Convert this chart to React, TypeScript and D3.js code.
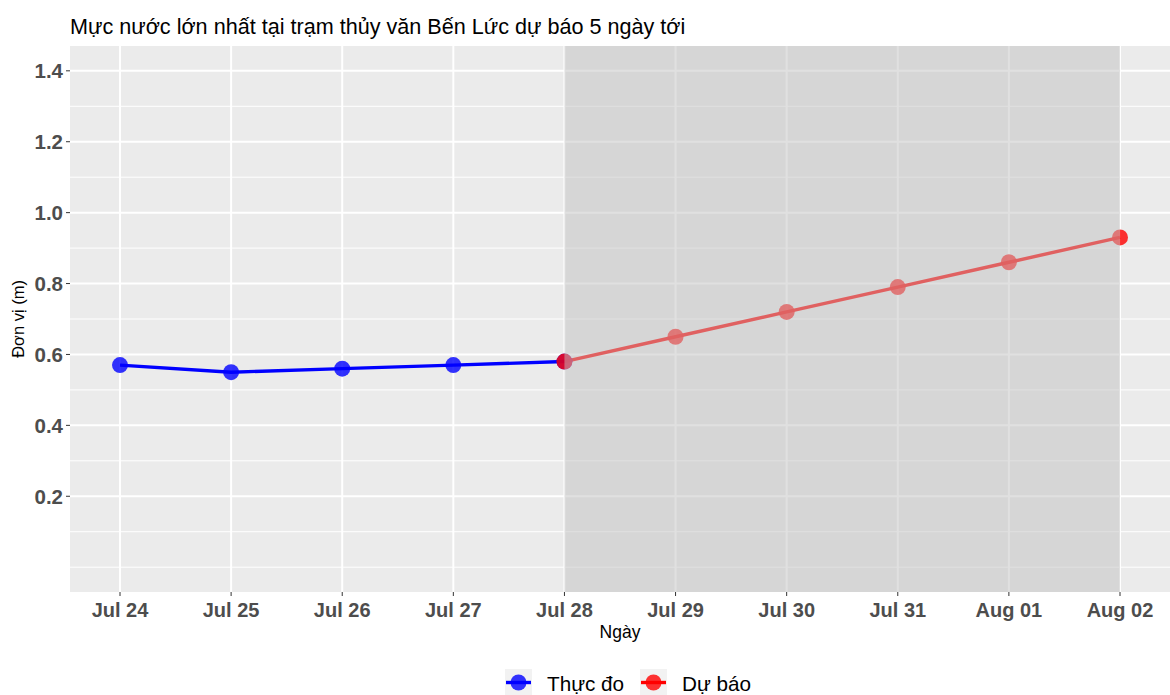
import React from "react";
import * as d3 from "d3";

const observedDates = ["2024-07-24", "2024-07-25", "2024-07-26", "2024-07-27", "2024-07-28"];
const observedValues = [0.57, 0.55, 0.56, 0.57, 0.58];
const forecastDates = ["2024-07-28", "2024-07-29", "2024-07-30", "2024-07-31", "2024-08-01", "2024-08-02"];
const forecastValues = [0.58, 0.65, 0.72, 0.79, 0.86, 0.93];
const xTickDates = ["2024-07-24", "2024-07-25", "2024-07-26", "2024-07-27", "2024-07-28", "2024-07-29", "2024-07-30", "2024-07-31", "2024-08-01", "2024-08-02"];
const yMajorTicks = [0.2, 0.4, 0.6, 0.8, 1.0, 1.2, 1.4];
const yMinorTicks = [0.0, 0.1, 0.3, 0.5, 0.7, 0.9, 1.1, 1.3];
const legendLabels = ["Thực đo", "Dự báo"];
const titleText = "Mực nước lớn nhất tại trạm thủy văn Bến Lức dự báo 5 ngày tới";

const parse = d3.utcParse("%Y-%m-%d");
const fmt = d3.utcFormat("%b %d");

export default function App() {
  const W = 1170, H = 695;
  const left = 70, right = 1170, top = 46, bottom = 592;
  const d0 = parse(xTickDates[0])!.getTime();
  const d1 = parse(xTickDates[xTickDates.length - 1])!.getTime();
  const pad = (d1 - d0) * 0.05;
  const x = d3.scaleUtc().domain([new Date(d0 - pad), new Date(d1 + pad)]).range([left, right]);
  const yLo = 0, yHi = 1.4;
  const ypad = (yHi - yLo) * 0.05;
  const y = d3.scaleLinear().domain([yLo - ypad, yHi + ypad]).range([bottom, top]);

  const obs = observedDates.map((d, i) => ({ d: parse(d)!, v: observedValues[i] }));
  const fc = forecastDates.map((d, i) => ({ d: parse(d)!, v: forecastValues[i] }));
  const line = d3.line<{ d: Date; v: number }>().x((p) => x(p.d)).y((p) => y(p.v));
  const shadeX0 = x(parse(forecastDates[0])!);
  const shadeX1 = x(parse(forecastDates[forecastDates.length - 1])!);
  const font = "'Liberation Sans', Arial, sans-serif";

  return (
    <svg width={W} height={H} style={{ position: "absolute", left: 0, top: 0, background: "#fff" }} fontFamily={font}>
      <rect x={left} y={top} width={right - left} height={bottom - top} fill="#EBEBEB" />
      {yMinorTicks.map((t) => (
        <line key={"ym" + t} x1={left} x2={right} y1={y(t)} y2={y(t)} stroke="#fff" strokeWidth={1} />
      ))}
      {yMajorTicks.map((t) => (
        <line key={"yM" + t} x1={left} x2={right} y1={y(t)} y2={y(t)} stroke="#fff" strokeWidth={2} />
      ))}
      {xTickDates.map((t) => (
        <line key={"xM" + t} x1={x(parse(t)!)} x2={x(parse(t)!)} y1={top} y2={bottom} stroke="#fff" strokeWidth={2} />
      ))}
      <path d={line(obs) ?? ""} fill="none" stroke="blue" strokeWidth={3.4} />
      <path d={line(fc) ?? ""} fill="none" stroke="red" strokeWidth={3.4} />
      {obs.map((p, i) => (
        <circle key={"o" + i} cx={x(p.d)} cy={y(p.v)} r={8} fill="blue" fillOpacity={0.8} />
      ))}
      {fc.map((p, i) => (
        <circle key={"f" + i} cx={x(p.d)} cy={y(p.v)} r={8} fill="red" fillOpacity={0.8} />
      ))}
      <rect x={shadeX0} y={top} width={shadeX1 - shadeX0} height={bottom - top} fill="#C2C2C2" fillOpacity={0.5} />

      {yMajorTicks.map((t) => (
        <g key={"yt" + t}>
          <line x1={left - 4} x2={left} y1={y(t)} y2={y(t)} stroke="#333" strokeWidth={1} />
          <text x={left - 7} y={y(t)} dy="0.36em" textAnchor="end" fontSize={20.5} fontWeight="bold" fill="#4D4D4D">
            {t.toFixed(1)}
          </text>
        </g>
      ))}
      {xTickDates.map((t) => (
        <g key={"xt" + t}>
          <line x1={x(parse(t)!)} x2={x(parse(t)!)} y1={bottom} y2={bottom + 4} stroke="#333" strokeWidth={1} />
          <text x={x(parse(t)!)} y={617} textAnchor="middle" fontSize={20} fontWeight="bold" fill="#4D4D4D">
            {fmt(parse(t)!)}
          </text>
        </g>
      ))}
      <text x={(left + right) / 2} y={638} textAnchor="middle" fontSize={17.5} fill="#000">Ngày</text>
      <text transform={`translate(24,${(top + bottom) / 2}) rotate(-90)`} textAnchor="middle" fontSize={16.5} fill="#000">
        Đơn vị (m)
      </text>
      <text x={70} y={34} fontSize={21.6} fill="#000">{titleText}</text>

      {legendLabels.map((lab, i) => {
        const kx = i === 0 ? 505 : 640;
        const col = i === 0 ? "blue" : "red";
        return (
          <g key={"lg" + i}>
            <rect x={kx} y={669} width={27} height={27} fill="#F2F2F2" />
            <line x1={kx + 1} x2={kx + 26} y1={682.5} y2={682.5} stroke={col} strokeWidth={3.4} />
            <circle cx={kx + 13.5} cy={682.5} r={8} fill={col} fillOpacity={0.8} />
            <text x={kx + 42} y={691} fontSize={20.7} fill="#000">{lab}</text>
          </g>
        );
      })}
    </svg>
  );
}
